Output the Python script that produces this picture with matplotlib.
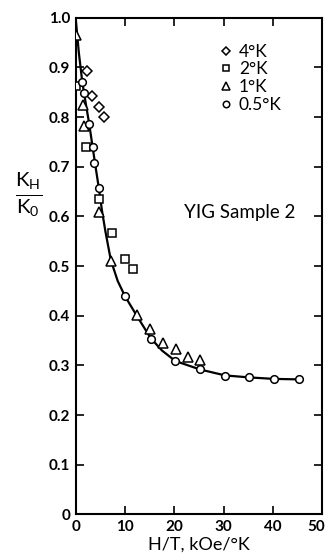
import matplotlib
matplotlib.use("Agg")
import matplotlib.pyplot as plt
import matplotlib.transforms as mtransforms

plt.rcParams['font.family'] = ['Lato', 'DejaVu Sans']
plt.rcParams['mathtext.fontset'] = 'custom'
plt.rcParams['mathtext.rm'] = 'Lato'
plt.rcParams['mathtext.it'] = 'Lato'

# 4 K
x_4k = [2.2, 3.2, 4.7, 5.7]
y_4k = [0.892, 0.842, 0.821, 0.800]
# 2 K
x_2k = [0.0, 2.0, 4.7, 7.4, 10.0, 11.6]
y_2k = [0.862, 0.740, 0.635, 0.566, 0.515, 0.495]
# 1 K
x_1k = [0.1, 1.5, 1.6, 4.7, 7.1, 12.5, 15.0, 17.6, 20.3, 22.7, 25.2]
y_1k = [0.965, 0.824, 0.783, 0.609, 0.510, 0.402, 0.373, 0.346, 0.333, 0.317, 0.312]
# 0.5 K
x_05k = [1.3, 1.6, 2.7, 3.4, 3.7, 4.7, 10.0, 15.2, 20.2, 25.2, 30.3, 35.2, 40.2, 45.4]
y_05k = [0.871, 0.849, 0.787, 0.740, 0.708, 0.658, 0.439, 0.353, 0.309, 0.293, 0.279, 0.277, 0.273, 0.273]

# smooth curve drawn through the data
curve_x = [0, 0.6, 1.3, 2.0, 2.7, 3.4, 4.0, 4.7, 5.3, 6.0, 7.1, 8.5, 10.0, 12.5, 15.2, 17.5,
           20.2, 25.2, 30.3, 35.2, 40.2, 45.4]
curve_y = [0.995, 0.93, 0.871, 0.828, 0.787, 0.740, 0.700, 0.655, 0.612, 0.570, 0.512, 0.470,
           0.439, 0.398, 0.355, 0.330, 0.309, 0.292, 0.280, 0.276, 0.273, 0.272]

xticks = [0, 10, 20, 30, 40, 50]
yticks = [0, 0.1, 0.2, 0.3, 0.4, 0.5, 0.6, 0.7, 0.8, 0.9, 1.0]
ytick_labels = ['0', '0.1', '0.2', '0.3', '0.4', '0.5', '0.6', '0.7', '0.8', '0.9', '1.0']

fig = plt.figure(figsize=(3.27, 5.54), dpi=100)
ax = fig.add_axes([0.232, 0.0713, 0.753, 0.8966])

ax.plot(curve_x, curve_y, color='black', lw=1.6, zorder=2)

mk = dict(linestyle='none', mfc='white', mec='black', mew=1.1, zorder=3)
ax.plot(x_4k, y_4k, marker='D', ms=5, label='4°K', **mk)
ax.plot(x_2k, y_2k, marker='s', ms=5.5, label='2°K', **mk)
ax.plot(x_1k, y_1k, marker='^', ms=6.5, label='1°K', **mk)
ax.plot(x_05k, y_05k, marker='o', ms=5.5, label='0.5°K', **mk)

ax.set_xlim(0, 50)
ax.set_ylim(0, 1.0)
ax.set_xticks(xticks)
ax.set_yticks(yticks)
ax.set_yticklabels(ytick_labels)
ax.tick_params(direction='in', length=6, width=1.2, top=True, right=True,
               labelsize=11, pad=4)
for lbl in ax.get_xticklabels() + ax.get_yticklabels():
    lbl.set_fontweight('bold')
# keep the last x label inside the picture
last = ax.get_xticklabels()[-1]
last.set_transform(last.get_transform() + mtransforms.ScaledTranslation(-4 / 72, 0, fig.dpi_scale_trans))
for s in ax.spines.values():
    s.set_linewidth(1.5)

ax.set_xlabel('H/T, kOe/°K', fontsize=13, labelpad=2)
fig.text(0.088, 0.648, r'$\frac{\mathrm{K_H}}{\mathrm{K_0}}$', fontsize=21,
         ha='center', va='center')

ax.text(0.667, 0.607, 'YIG Sample 2', transform=ax.transAxes, fontsize=13.5,
        ha='center', va='center')

leg = ax.legend(loc='upper left', bbox_to_anchor=(0.56, 0.962), frameon=False,
                fontsize=12.5, handlelength=0.6, handletextpad=0.45, labelspacing=0.1,
                borderaxespad=0, markerscale=0.85)

fig.savefig('out.png', dpi=100)
